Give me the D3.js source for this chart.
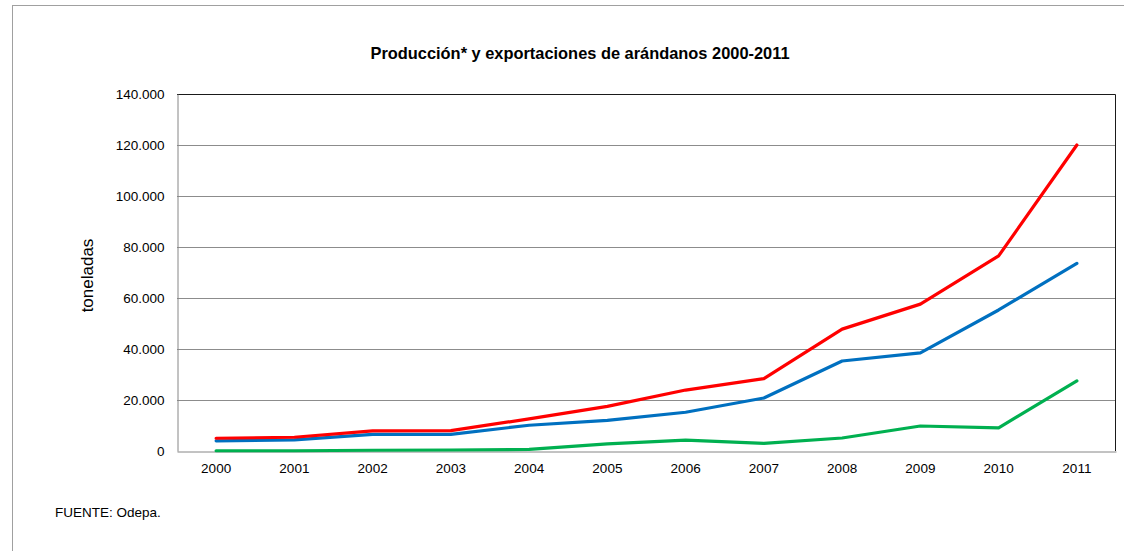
<!DOCTYPE html>
<html><head><meta charset="utf-8">
<script src="https://cdn.jsdelivr.net/npm/d3@7"></script>
<style>body{margin:0;background:#fff;} svg{display:block;font-family:"Liberation Sans",Arial,sans-serif;}</style>
</head><body>
<svg id="c" width="1124" height="551"></svg>
<script>
const years = ["2000","2001","2002","2003","2004","2005","2006","2007","2008","2009","2010","2011"];
const produccion = [5000,5400,7900,8000,12600,17500,23900,28400,47800,57600,76500,120000];
const exportaciones = [4000,4400,6500,6500,10100,12000,15200,20800,35300,38500,55300,73600];
const tercera = [100,100,300,400,600,2800,4300,3000,5100,9800,9100,27500];
const yTicks = [0,20000,40000,60000,80000,100000,120000,140000];
const titleText = "Producción* y exportaciones de arándanos 2000-2011";
const yLabel = "toneladas";
const sourceText = "FUENTE: Odepa.";

const series = [
  {values: produccion, color: "#ff0000"},
  {values: exportaciones, color: "#0070c0"},
  {values: tercera, color: "#00b050"}
];

const svg = d3.select("#c");
const L = 177, R = 1116, T = 94, B = 451;
const x = d3.scaleBand().domain(years).range([L, R]);
const y = d3.scaleLinear().domain([0, 140000]).range([B, T]);
const loc = d3.formatLocale({decimal: ",", thousands: ".", grouping: [3], currency: ["", ""]});
const fmt = loc.format(",");

// outer frame
svg.append("rect").attr("x", 12.5).attr("y", 5.5).attr("width", 1130).attr("height", 560)
  .attr("fill", "none").attr("stroke", "#a0a0a0").attr("stroke-width", 1);

// title
svg.append("text").attr("x", 580).attr("y", 59).attr("text-anchor", "middle")
  .attr("font-weight", "bold").attr("font-size", 16.4).attr("fill", "#000").text(titleText);

// gridlines
svg.append("g").selectAll("line").data(yTicks.filter(d => d > 0 && d < 140000)).join("line")
  .attr("x1", L).attr("x2", R).attr("y1", d => Math.round(y(d)) + 0.5).attr("y2", d => Math.round(y(d)) + 0.5)
  .attr("stroke", "#8c8c8c").attr("stroke-width", 1);

// plot border top/right
svg.append("path").attr("d", `M${L},${T + 0.5}H${R - 0.5}V${B}`)
  .attr("fill", "none").attr("stroke", "#1a1a1a").attr("stroke-width", 1);

// y axis
const yAxis = svg.append("g").attr("transform", `translate(${L + 0.5},0)`)
  .call(d3.axisLeft(y).tickValues(yTicks).tickFormat(fmt).tickSize(0).tickPadding(13));
yAxis.select(".domain").attr("stroke", "#868686");
yAxis.selectAll("text").attr("font-size", 13.5).attr("fill", "#000")
  .attr("font-family", "Liberation Sans, Arial, sans-serif");

// x axis
const xAxis = svg.append("g").attr("transform", `translate(0,${B + 0.5})`)
  .call(d3.axisBottom(x).tickSize(0).tickPadding(12));
xAxis.select(".domain").attr("stroke", "#868686");
xAxis.selectAll("text").attr("font-size", 13.5).attr("fill", "#000")
  .attr("font-family", "Liberation Sans, Arial, sans-serif");

// y label
svg.append("text").attr("transform", `translate(93,275.5) rotate(-90)`).attr("text-anchor", "middle")
  .attr("font-size", 17).attr("fill", "#000").text(yLabel);

// lines
const line = d3.line().x((d, i) => x(years[i]) + x.bandwidth() / 2).y(d => y(d));
svg.append("g").selectAll("path").data(series.slice().reverse()).join("path")
  .attr("d", s => line(s.values)).attr("fill", "none").attr("stroke", s => s.color)
  .attr("stroke-width", 3.2).attr("stroke-linejoin", "round").attr("stroke-linecap", "round");

// source
svg.append("text").attr("x", 55).attr("y", 517).attr("font-size", 13.5).attr("fill", "#000").text(sourceText);
</script>
</body></html>
